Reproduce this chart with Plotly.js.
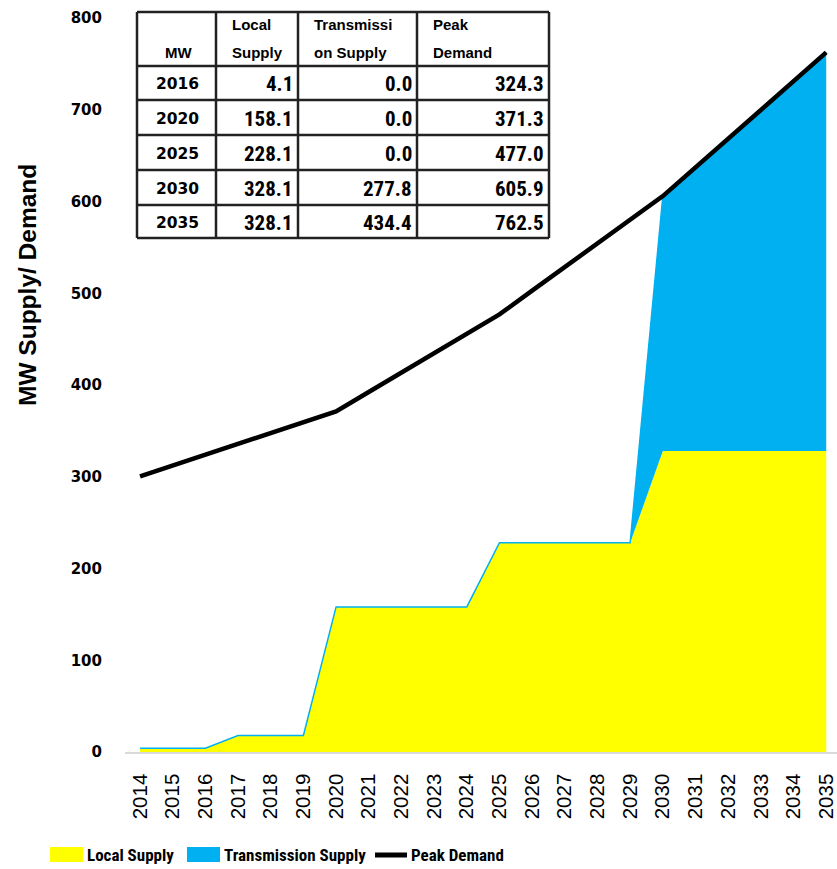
<!DOCTYPE html>
<html>
<head>
<meta charset="utf-8">
<script src="https://cdn.plot.ly/plotly-3.0.1.min.js"></script>
<style>
  html, body { margin: 0; padding: 0; background: #fff; }
  #chart { width: 837px; height: 869px; }
</style>
</head>
<body>
<div id="chart"></div>
<script>
// ---- data ----
const years = [2014, 2015, 2016, 2017, 2018, 2019, 2020, 2021, 2022, 2023, 2024,
               2025, 2026, 2027, 2028, 2029, 2030, 2031, 2032, 2033, 2034, 2035];
const localSupply = [4.1, 4.1, 4.1, 18, 18, 18, 158.1, 158.1, 158.1, 158.1, 158.1,
                     228.1, 228.1, 228.1, 228.1, 228.1, 328.1, 328.1, 328.1, 328.1, 328.1, 328.1];
const transmissionSupply = [0, 0, 0, 0, 0, 0, 0, 0, 0, 0, 0,
                            0, 0, 0, 0, 0, 277.8, 309, 340.5, 372, 403, 434.4];
const peakDemand = [300.5, 312.4, 324.3, 336, 347.8, 359.5, 371.3, 392.4, 413.5, 434.7, 455.8,
                    477.0, 502.8, 528.6, 554.3, 580.1, 605.9, 637.2, 668.5, 699.9, 731.2, 762.5];
const seriesNames = ['Local Supply', 'Transmission Supply', 'Peak Demand'];
const yTickVals = [0, 100, 200, 300, 400, 500, 600, 700, 800];

// inset table
const tableHeaderTop = ['', 'Local', 'Transmissi', 'Peak'];
const tableHeaderBottom = ['MW', 'Supply', 'on Supply', 'Demand'];
const tableYears = ['2016', '2020', '2025', '2030', '2035'];
const tableLocal = ['4.1', '158.1', '228.1', '328.1', '328.1'];
const tableTrans = ['0.0', '0.0', '0.0', '277.8', '434.4'];
const tableDemand = ['324.3', '371.3', '477.0', '605.9', '762.5'];

// ---- geometry helpers (pixel -> paper) ----
const W = 837, H = 869;
const M = {l: 125, r: 0, t: 18, b: 117};
const PW = W - M.l - M.r, PH = H - M.t - M.b;
const px = x => (x - M.l) / PW;
const py = y => (H - M.b - y) / PH;

const narrow = 'Roboto Condensed, Liberation Sans Narrow, Arial Narrow, Liberation Sans, sans-serif';
const sans = 'Liberation Sans, Arial, sans-serif';

const shapes = [];
const annotations = [];

// ---- table (pixels) ----
const colX = [137, 216, 298, 417, 549];
const rowY = [12, 66, 100, 135, 170, 205, 238];
shapes.push({type: 'rect', xref: 'paper', yref: 'paper',
  x0: px(colX[0]), x1: px(colX[4]), y0: py(rowY[0]), y1: py(rowY[6]),
  fillcolor: '#fff', line: {width: 0}});
colX.forEach(x => shapes.push({type: 'line', xref: 'paper', yref: 'paper',
  x0: px(x), x1: px(x), y0: py(rowY[0]), y1: py(rowY[rowY.length - 1]),
  line: {color: '#222', width: 2.5}}));
rowY.forEach(y => shapes.push({type: 'line', xref: 'paper', yref: 'paper',
  x0: px(colX[0]), x1: px(colX[colX.length - 1]), y0: py(y), y1: py(y),
  line: {color: '#222', width: 2.5}}));

// headers
annotations.push({xref: 'paper', yref: 'paper', x: px((colX[0] + colX[1]) / 2 + 2), y: py(53),
  text: '<b>' + tableHeaderBottom[0] + '</b>', showarrow: false, xanchor: 'center', yanchor: 'middle',
  font: {family: sans, size: 15, color: '#000'}});
for (let c = 1; c < 4; c++) {
  annotations.push({xref: 'paper', yref: 'paper', x: px(colX[c] + 14), y: py(25),
    text: '<b>' + tableHeaderTop[c] + '</b>', showarrow: false, xanchor: 'left', yanchor: 'middle',
    font: {family: sans, size: 15, color: '#000'}});
  annotations.push({xref: 'paper', yref: 'paper', x: px(colX[c] + 14), y: py(53),
    text: '<b>' + tableHeaderBottom[c] + '</b>', showarrow: false, xanchor: 'left', yanchor: 'middle',
    font: {family: sans, size: 15, color: '#000'}});
}
// body
const cols = [tableLocal, tableTrans, tableDemand];
tableYears.forEach((yr, r) => {
  const yc = py((rowY[r + 1] + rowY[r + 2]) / 2 + 1);
  annotations.push({xref: 'paper', yref: 'paper', x: px((colX[0] + colX[1]) / 2 + 1), y: yc,
    text: '<b>' + yr + '</b>', showarrow: false, xanchor: 'center', yanchor: 'middle',
    font: {family: 'DejaVu Sans', size: 15.5, color: '#000'}});
  cols.forEach((col, c) => {
    annotations.push({xref: 'paper', yref: 'paper', x: px(colX[c + 2] - 3), y: yc,
      text: '<b>' + col[r] + '</b>', showarrow: false, xanchor: 'right', yanchor: 'middle',
      font: {family: narrow, size: 21, color: '#000'}});
  });
});

// ---- y-axis title (placed as in the reference, above centre) ----
annotations.push({xref: 'paper', yref: 'paper', x: px(27), y: py(285), textangle: -90,
  text: '<b>MW Supply/ Demand</b>', showarrow: false, xanchor: 'center', yanchor: 'middle',
  font: {family: sans, size: 24.5, color: '#000'}});

// ---- legend (swatches + labels) ----
const legendY = 855;
const legendItems = [
  {name: seriesNames[0], x: 50, kind: 'rect', color: '#FFFF00'},
  {name: seriesNames[1], x: 187, kind: 'rect', color: '#00B0F0'},
  {name: seriesNames[2], x: 373, kind: 'line', color: '#000000'}
];
legendItems.forEach(it => {
  if (it.kind === 'rect') {
    shapes.push({type: 'rect', xref: 'paper', yref: 'paper',
      x0: px(it.x), x1: px(it.x + 33), y0: py(legendY - 8), y1: py(legendY + 7),
      fillcolor: it.color, line: {width: 0}});
  } else {
    shapes.push({type: 'line', xref: 'paper', yref: 'paper',
      x0: px(it.x + 2), x1: px(it.x + 34), y0: py(legendY), y1: py(legendY),
      line: {color: it.color, width: 5}});
  }
  annotations.push({xref: 'paper', yref: 'paper', x: px(it.x + (it.kind === 'rect' ? 35 : 36)), y: py(legendY),
    text: '<b>' + it.name + '</b>', showarrow: false, xanchor: 'left', yanchor: 'middle',
    font: {family: narrow, size: 17, color: '#000'}});
});

// ---- traces ----
const traces = [
  {x: years, y: localSupply, name: seriesNames[0], type: 'scatter', mode: 'lines',
   stackgroup: 'supply', fillcolor: '#FFFF00', line: {color: '#FFFF00', width: 0}},
  {x: years, y: transmissionSupply, name: seriesNames[1], type: 'scatter', mode: 'lines',
   stackgroup: 'supply', fillcolor: '#00B0F0', line: {color: '#00B0F0', width: 1.5}},
  {x: years, y: peakDemand, name: seriesNames[2], type: 'scatter', mode: 'lines',
   line: {color: '#000', width: 4.5}}
];

const layout = {
  width: W, height: H,
  margin: M,
  paper_bgcolor: '#fff', plot_bgcolor: '#fff',
  showlegend: false,
  xaxis: {type: 'linear', range: [2013.54, 2035.33], tickmode: 'array', tickvals: years,
          ticktext: years.map(String), tickangle: -90, showgrid: false, zeroline: false,
          showline: true, linecolor: '#D9D9D9', linewidth: 1.5, ticks: '',
          ticklabelstandoff: 12, ticklabeloverflow: 'allow',
          tickfont: {family: sans, size: 20.5, color: '#000'}},
  yaxis: {range: [0, 800], tickmode: 'array', tickvals: yTickVals,
          showgrid: false, zeroline: false, showline: false, ticks: '',
          ticklabelstandoff: 22,
          tickfont: {family: 'DejaVu Sans', size: 15, color: '#000', weight: 'bold'}},
  shapes: shapes,
  annotations: annotations
};

Plotly.newPlot('chart', traces, layout, {displayModeBar: false, staticPlot: true});
</script>
</body>
</html>
